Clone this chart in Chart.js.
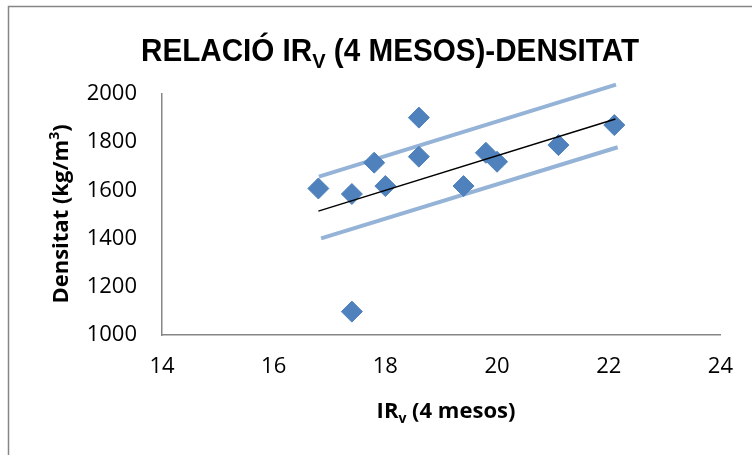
<!DOCTYPE html>
<html>
<head>
<meta charset="utf-8">
<script src="https://cdn.jsdelivr.net/npm/chart.js@4.4.1/dist/chart.umd.min.js"></script>
<style>
html,body{margin:0;padding:0;background:#fff;}
#wrap{width:752px;height:455px;position:relative;}
</style>
</head>
<body>
<div id="wrap"><canvas id="chart" width="752" height="455"></canvas></div>
<script>
// data
const irv = [16.8, 17.4, 17.4, 17.8, 18.0, 18.6, 18.6, 19.4, 19.8, 20.0, 21.1, 22.1];
const densitat = [1608, 1585, 1097, 1715, 1618, 1902, 1740, 1618, 1756, 1719, 1788, 1871];
// trend line and band ends (x, y)
const trendX = [16.8, 22.12];
const trendY = [1514, 1896];
const upperX = [16.81, 22.13];
const upperY = [1657, 2039];
const lowerX = [16.85, 22.16];
const lowerY = [1401, 1779];
const xTicks = [14, 16, 18, 20, 22, 24];
const yTicks = [1000, 1200, 1400, 1600, 1800, 2000];

function pairs(xs, ys){
  return xs.map((x, i) => ({x: x, y: ys[i]}));
}

const GRAY = '#868686';
const FONT = '"Open Sans", sans-serif';

// frame + titles with sub/superscripts
const decor = {
  id: 'decor',
  afterDraw(chart){
    const ctx = chart.ctx;
    ctx.save();
    // frame (only top and left edges show)
    ctx.strokeStyle = GRAY;
    ctx.lineWidth = 1.5;
    ctx.beginPath();
    ctx.moveTo(8.5, 455);
    ctx.lineTo(8.5, 6.5);
    ctx.lineTo(752, 6.5);
    ctx.stroke();

    ctx.fillStyle = '#000';
    ctx.textBaseline = 'alphabetic';
    ctx.textAlign = 'left';

    // main title, squeezed to the reference width
    const big = 'bold 31px "Liberation Sans", Arial, sans-serif';
    const small = 'bold 21px "Liberation Sans", Arial, sans-serif';
    const t1 = 'RELACIÓ IR', t2 = 'V', t3 = ' (4 MESOS)-DENSITAT';
    ctx.font = big; const w1 = ctx.measureText(t1).width; const w3 = ctx.measureText(t3).width;
    ctx.font = small; const w2 = ctx.measureText(t2).width;
    const sx = 498 / (w1 + w2 + w3);
    ctx.save();
    ctx.translate(141, 0);
    ctx.scale(sx, 1);
    ctx.font = big; ctx.fillText(t1, 0, 61);
    ctx.font = small; ctx.fillText(t2, w1, 68);
    ctx.font = big; ctx.fillText(t3, w1 + w2, 61);
    ctx.restore();

    // x axis title
    const xb = 'bold 22px ' + FONT, xs = 'bold 14px ' + FONT;
    const a1 = 'IR', a2 = 'v', a3 = ' (4 mesos)';
    ctx.font = xb; const aw1 = ctx.measureText(a1).width, aw3 = ctx.measureText(a3).width;
    ctx.font = xs; const aw2 = ctx.measureText(a2).width;
    const ax = 446 - (aw1 + aw2 + aw3) / 2;
    ctx.font = xb; ctx.fillText(a1, ax, 418);
    ctx.font = xs; ctx.fillText(a2, ax + aw1, 423);
    ctx.font = xb; ctx.fillText(a3, ax + aw1 + aw2, 418);

    // y axis title, rotated
    const b1 = 'Densitat (kg/m', b2 = '3', b3 = ')';
    ctx.font = xb; const bw1 = ctx.measureText(b1).width, bw3 = ctx.measureText(b3).width;
    ctx.font = xs; const bw2 = ctx.measureText(b2).width;
    ctx.save();
    ctx.translate(68, 214);
    ctx.rotate(-Math.PI / 2);
    const bx = -(bw1 + bw2 + bw3) / 2;
    ctx.font = xb; ctx.fillText(b1, bx, 0);
    ctx.font = xs; ctx.fillText(b2, bx + bw1, -9);
    ctx.font = xb; ctx.fillText(b3, bx + bw1 + bw2, 0);
    ctx.restore();

    ctx.restore();
  }
};

new Chart(document.getElementById('chart'), {
  type: 'scatter',
  data: {
    datasets: [
      {
        label: 'band up',
        data: pairs(upperX, upperY),
        showLine: true,
        borderColor: '#95B3D7',
        borderWidth: 4,
        pointRadius: 0,
        clip: false,
        order: 3
      },
      {
        label: 'band low',
        data: pairs(lowerX, lowerY),
        showLine: true,
        borderColor: '#95B3D7',
        borderWidth: 4,
        pointRadius: 0,
        clip: false,
        order: 3
      },
      {
        label: 'Densitat',
        data: pairs(irv, densitat),
        pointStyle: 'rectRot',
        pointRadius: 10.5,
        pointHoverRadius: 10.5,
        backgroundColor: '#4F81BD',
        borderColor: '#4F81BD',
        borderWidth: 1,
        clip: false,
        order: 2
      },
      {
        label: 'trend',
        data: pairs(trendX, trendY),
        showLine: true,
        borderColor: '#000',
        borderWidth: 1.5,
        pointRadius: 0,
        clip: false,
        order: 1
      }
    ]
  },
  options: {
    responsive: false,
    animation: false,
    events: [],
    layout: {padding: {left: 0, right: 30, top: 94, bottom: 0}},
    plugins: {legend: {display: false}, tooltip: {enabled: false}, title: {display: false}},
    scales: {
      x: {
        type: 'linear',
        min: 14, max: 24,
        afterBuildTicks: s => { s.ticks = xTicks.map(v => ({value: v})); },
        afterFit: s => { s.height = 120; },
        grid: {display: false, drawTicks: false},
        border: {color: GRAY, width: 1.5},
        ticks: {color: '#000', padding: 19, maxRotation: 0, font: {family: FONT, size: 22},
          callback: v => String(v)}
      },
      y: {
        type: 'linear',
        min: 1000, max: 2000,
        afterBuildTicks: s => { s.ticks = yTicks.map(v => ({value: v})); },
        afterFit: s => { s.width = 162; },
        grid: {display: false, drawTicks: false},
        border: {color: GRAY, width: 1.5},
        ticks: {color: '#000', padding: 25, font: {family: FONT, size: 22},
          callback: v => String(v)}
      }
    }
  },
  plugins: [decor]
});
</script>
</body>
</html>
